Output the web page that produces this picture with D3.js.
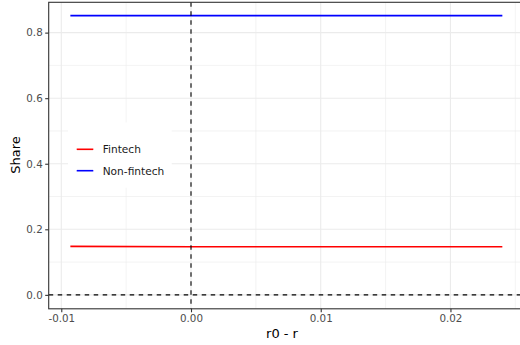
<!DOCTYPE html>
<html>
<head>
<meta charset="utf-8">
<script src="https://cdn.jsdelivr.net/npm/d3@7"></script>
<style>
  body { margin: 0; background: #fff; }
  svg { display: block; font-family: "DejaVu Sans", sans-serif; }
</style>
</head>
<body>
<svg id="chart" width="520" height="345"></svg>
<script>
// --- data ---
const xValues = [-0.0093, 0.0, 0.024];
const fintechShare = [0.148, 0.147, 0.147];
const nonFintechShare = [0.852, 0.852, 0.852];
const seriesNames = ['Fintech', 'Non-fintech'];
const seriesColors = ['red', 'blue'];
const xTicks = [-0.01, 0.00, 0.01, 0.02];
const xMinor = [-0.005, 0.005, 0.015, 0.025];
const yTicks = [0.0, 0.2, 0.4, 0.6, 0.8];
const yMinor = [0.1, 0.3, 0.5, 0.7];

const svg = d3.select('#chart');
const panel = { left: 48.7, right: 524, top: 2.3, bottom: 308.8 };

const x = d3.scaleLinear().domain([-0.01097, 0.02567]).range([panel.left, panel.right]);
const y = d3.scaleLinear().domain([-0.0425, 0.8925]).range([panel.bottom, panel.top]);

const g = svg.append('g');

// gridlines
g.selectAll('.xminor').data(xMinor).enter().append('line')
    .attr('x1', d => x(d)).attr('x2', d => x(d))
    .attr('y1', panel.top).attr('y2', panel.bottom)
    .attr('stroke', '#ebebeb').attr('stroke-width', 0.6);
g.selectAll('.yminor').data(yMinor).enter().append('line')
    .attr('x1', panel.left).attr('x2', panel.right)
    .attr('y1', d => y(d)).attr('y2', d => y(d))
    .attr('stroke', '#ebebeb').attr('stroke-width', 0.6);
g.selectAll('.xmajor').data(xTicks).enter().append('line')
    .attr('x1', d => x(d)).attr('x2', d => x(d))
    .attr('y1', panel.top).attr('y2', panel.bottom)
    .attr('stroke', '#ebebeb').attr('stroke-width', 1.1);
g.selectAll('.ymajor').data(yTicks).enter().append('line')
    .attr('x1', panel.left).attr('x2', panel.right)
    .attr('y1', d => y(d)).attr('y2', d => y(d))
    .attr('stroke', '#ebebeb').attr('stroke-width', 1.1);

// series
const line = d3.line().x(d => x(d[0])).y(d => y(d[1]));
[fintechShare, nonFintechShare].forEach((vals, i) => {
    g.append('path')
        .datum(xValues.map((xv, j) => [xv, vals[j]]))
        .attr('d', line)
        .attr('fill', 'none')
        .attr('stroke', seriesColors[i])
        .attr('stroke-width', 1.6);
});

// reference lines at zero, drawn over the series
g.append('line')
    .attr('x1', x(0)).attr('x2', x(0))
    .attr('y1', panel.top).attr('y2', panel.bottom)
    .attr('stroke', '#000').attr('stroke-width', 1.1).attr('stroke-dasharray', '4.5,4.5');
g.append('line')
    .attr('x1', panel.left).attr('x2', panel.right)
    .attr('y1', y(0)).attr('y2', y(0))
    .attr('stroke', '#000').attr('stroke-width', 1.1).attr('stroke-dasharray', '4.5,4.5');

// panel border
g.append('rect')
    .attr('x', panel.left).attr('y', panel.top)
    .attr('width', panel.right - panel.left).attr('height', panel.bottom - panel.top)
    .attr('fill', 'none').attr('stroke', '#333').attr('stroke-width', 1.1);

// axes
const xAxis = svg.append('g')
    .attr('transform', `translate(0,${panel.bottom})`)
    .call(d3.axisBottom(x).tickValues(xTicks).tickFormat(d3.format('.2f')).tickSize(3.5).tickPadding(2.5));
const yAxis = svg.append('g')
    .attr('transform', `translate(${panel.left},0)`)
    .call(d3.axisLeft(y).tickValues(yTicks).tickFormat(d3.format('.1f')).tickSize(3.5).tickPadding(2.5));
[xAxis, yAxis].forEach(a => {
    a.select('.domain').remove();
    a.selectAll('.tick line').attr('stroke', '#333').attr('stroke-width', 1.1);
    a.selectAll('.tick text').attr('fill', '#4d4d4d')
        .style('font-size', '10.3px').style('font-family', '"DejaVu Sans", sans-serif');
});
xAxis.selectAll('.tick text').text(d => d3.format('.2f')(d).replace('−', '-'));

// axis titles
svg.append('text')
    .attr('x', 282).attr('y', 338)
    .attr('text-anchor', 'middle')
    .style('font-size', '13px').attr('fill', '#000')
    .text('r0 - r');
svg.append('text')
    .attr('transform', 'translate(20,155) rotate(-90)')
    .attr('text-anchor', 'middle')
    .style('font-size', '13px').attr('fill', '#000')
    .text('Share');

// legend
const legend = svg.append('g');
legend.append('rect')
    .attr('x', 68).attr('y', 122.5).attr('width', 103.7).attr('height', 65.2)
    .attr('fill', '#fff');
seriesNames.forEach((name, i) => {
    const ky = 149.3 + i * 21.4;
    legend.append('line')
        .attr('x1', 76.7).attr('x2', 93.3).attr('y1', ky).attr('y2', ky)
        .attr('stroke', seriesColors[i]).attr('stroke-width', 1.6);
    legend.append('text')
        .attr('x', 102.7).attr('y', ky)
        .attr('dominant-baseline', 'central')
        .style('font-size', '10.6px').attr('fill', '#1a1a1a')
        .text(name);
});
</script>
</body>
</html>
